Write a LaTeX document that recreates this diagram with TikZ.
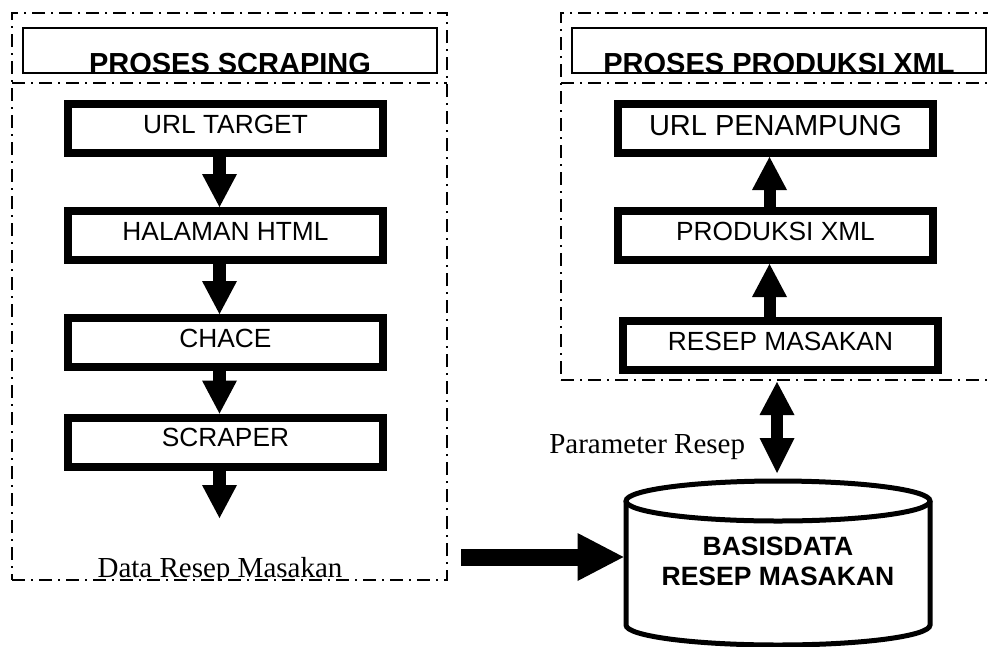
\documentclass[tikz,border=0pt]{standalone}
\usepackage{fontspec}
\setmainfont{Liberation Sans}
\newfontfamily\serifface{Liberation Serif}
\usetikzlibrary{arrows.meta}
\begin{document}
\begin{tikzpicture}[x=1pt,y=-1pt,
  container/.style={draw, line width=1.8pt, dash pattern=on 13pt off 6pt on 2pt off 6pt, inner sep=0pt, outer sep=0pt},
  sepline/.style={line width=1.8pt, dash pattern=on 13pt off 6pt on 2pt off 6pt},
  titlebox/.style={draw, line width=1.8pt, inner sep=0pt, outer sep=0pt, minimum width=414pt, text height=45pt, text depth=0pt, anchor=south, font=\fontsize{29}{30}\selectfont\bfseries},
  stepbox/.style={draw, line width=8pt, inner sep=0pt, minimum width=315pt, text height=29pt, text depth=20pt, font=\fontsize{26.3}{28}\selectfont},
  bigstep/.style={stepbox, text height=31pt, text depth=18pt, font=\fontsize{29}{30}\selectfont},
  seriflabel/.style={inner sep=0pt, outer sep=0pt, font=\serifface\fontsize{29}{30}\selectfont},
  dbbox/.style={align=center, inner sep=0pt, outer sep=0pt, minimum width=309pt, minimum height=150pt, font=\fontsize{26.5}{30}\selectfont\bfseries},
  cylline/.style={line width=5pt},
  flowarrow/.style={line width=13pt, -{Triangle[width=35pt,length=33pt,line width=0pt]}},
  uparrow/.style={line width=12pt, -{Triangle[width=35pt,length=33pt,line width=0pt]}},
  dblarrow/.style={line width=12pt, {Triangle[width=35pt,length=33pt,line width=0pt]}-{Triangle[width=35pt,length=35pt,line width=0pt]}},
  bigarrow/.style={line width=17pt, -{Triangle[width=48pt,length=46pt,line width=0pt]}}
]
\useasboundingbox (0,0) rectangle (988,646);
\clip (0,0) rectangle (988,646);

% containers
\node[container, minimum width=435pt, minimum height=567pt] (procL) at (229.5,296.5) {};
\node[container, minimum width=439pt, minimum height=367pt] (procR) at (780.5,196.5) {};
\draw[sepline] (procL.west |- 0,83) -- (procL.east |- 0,83);
\draw[sepline] (procR.west |- 0,83) -- (procR.east |- 0,83);

% titles
\node[titlebox] (titleL) at (230,73) {PROSES SCRAPING};
\node[titlebox] (titleR) at (779,73) {PROSES PRODUKSI XML};

% left column
\node[stepbox] (url) at (225.5,128.5) {URL TARGET};
\node[stepbox] (html) at (225.5,235.5) {HALAMAN HTML};
\node[stepbox] (chace) at (225.5,342.5) {CHACE};
\node[stepbox] (scraper) at (225.5,442) {SCRAPER};
\coordinate (scrEnd) at (219.5,518);

\draw[flowarrow] ([xshift=-6pt]url.south) -- ([xshift=-6pt]html.north);
\draw[flowarrow] ([xshift=-6pt]html.south) -- ([xshift=-6pt]chace.north);
\draw[flowarrow] ([xshift=-6pt]chace.south) -- ([xshift=-6pt]scraper.north);
\draw[flowarrow] ([xshift=-6pt]scraper.south) -- (scrEnd);

\begin{scope}
\clip (0,0) rectangle (988,580);
\node[seriflabel, anchor=base] (dataLbl) at (220,577) {Data Resep Masakan};
\end{scope}

% right column
\node[bigstep] (penampung) at (775.5,128.5) {URL PENAMPUNG};
\node[stepbox] (xml) at (775.5,235.5) {PRODUKSI XML};
\node[stepbox] (resep) at (780.5,345.5) {RESEP MASAKAN};

\draw[uparrow] ([xshift=-6pt]xml.north) -- ([xshift=-6pt]penampung.south);
\draw[uparrow] ([xshift=-11pt]resep.north) -- ([xshift=-6pt]xml.south);

% database
\node[dbbox] (db) at (778,561) {BASISDATA\\RESEP MASAKAN};
\draw[cylline] (626,501) -- (626,625) arc[start angle=180, end angle=0, x radius=152, y radius=20] -- (930,501);
\draw[cylline] (778,501) ellipse [x radius=152, y radius=20];

\coordinate (dblTop) at (777,382);
\coordinate (dblBot) at (777,473);
\draw[dblarrow] (dblTop) -- (dblBot);
\node[seriflabel, anchor=base east] (paramLbl) at (745,453) {Parameter Resep};

\coordinate (bigStart) at (461,557);
\draw[bigarrow] (bigStart) -- (bigStart -| db.west);
\end{tikzpicture}
\end{document}
